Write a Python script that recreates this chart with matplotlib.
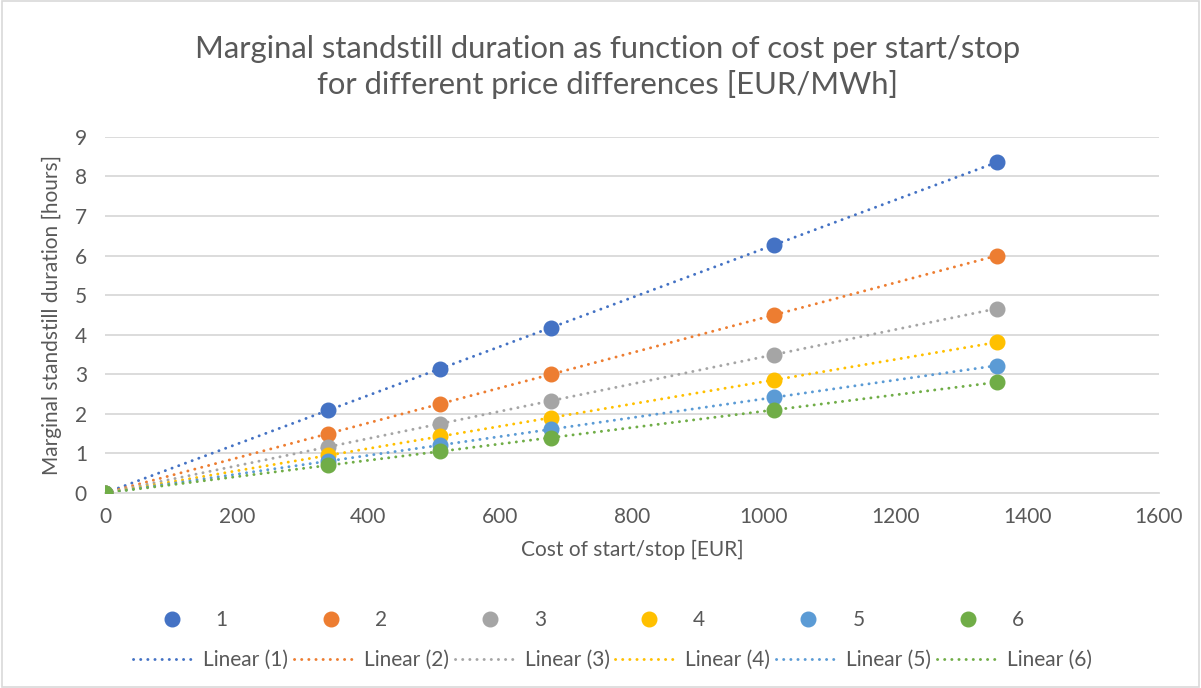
import matplotlib.pyplot as plt
import numpy as np
from matplotlib.lines import Line2D
from matplotlib.patches import Rectangle

plt.rcParams["font.family"] = ["Lato", "DejaVu Sans"]

# Cost per start/stop [EUR] and marginal standstill duration [hours]
cost = [0, 339, 508, 677, 1016, 1354]
series_names = ["1", "2", "3", "4", "5", "6"]
dur_1 = [0, 2.09, 3.14, 4.18, 6.27, 8.36]
dur_2 = [0, 1.50, 2.25, 3.00, 4.50, 6.00]
dur_3 = [0, 1.165, 1.75, 2.33, 3.50, 4.66]
dur_4 = [0, 0.95, 1.43, 1.90, 2.86, 3.81]
dur_5 = [0, 0.805, 1.21, 1.61, 2.42, 3.22]
dur_6 = [0, 0.70, 1.05, 1.40, 2.10, 2.80]
durations = [dur_1, dur_2, dur_3, dur_4, dur_5, dur_6]

COLOURS = ["#4472C4", "#ED7D31", "#A5A5A5", "#FFC000", "#5B9BD5", "#70AD47"]
TEXT = "#595959"
GRID = "#D9D9D9"
FS = 15
LW = 2.1
DOTS = (0, (0.05, 2.4))

fig = plt.figure(figsize=(12.01, 6.88), dpi=100)
ax = fig.add_axes([0.0874, 0.2834, 0.8776, 0.5176])

x = np.asarray(cost, dtype=float)
for name, y, colour in zip(series_names, durations, COLOURS):
    y = np.asarray(y, dtype=float)
    # least-squares trendline over the data range
    slope, intercept = np.polyfit(x, y, 1)
    xs = np.array([x.min(), x.max()])
    ax.plot(xs, slope * xs + intercept, color=colour, linewidth=LW,
            linestyle=DOTS, dash_capstyle="round", zorder=2)
for name, y, colour in zip(series_names, durations, COLOURS):
    ax.plot(x, y, linestyle="none", marker="o", markersize=10.5,
            color=colour, zorder=3)

ax.set_xlim(0, 1600)
ax.set_ylim(0, 9)
ax.set_xticks(np.arange(0, 1601, 200))
ax.set_yticks(np.arange(0, 10, 1))
ax.grid(axis="y", color=GRID, linewidth=1.3)
ax.set_axisbelow(True)
for side in ["top", "right", "left"]:
    ax.spines[side].set_visible(False)
ax.spines["bottom"].set_color(GRID)
ax.spines["bottom"].set_linewidth(1.3)
ax.tick_params(length=0, labelsize=FS, labelcolor=TEXT)
ax.tick_params(axis="x", pad=10)
ax.tick_params(axis="y", pad=13)
ax.set_xlabel("Cost of start/stop [EUR]", fontsize=FS, color=TEXT, labelpad=9)
ax.set_ylabel("Marginal standstill duration [hours]", fontsize=FS, color=TEXT,
              labelpad=9)

fig.text(0.506, 0.9026, "Marginal standstill duration as function of cost per start/stop\n"
         "for different price differences [EUR/MWh]",
         ha="center", va="center", fontsize=22.3, color=TEXT, linespacing=1.3)

marker_handles = [Line2D([], [], linestyle="none", marker="o", markersize=10.5,
                         color=c) for c in COLOURS]
line_handles = [Line2D([], [], color=c, linewidth=LW, linestyle=DOTS,
                       dash_capstyle="round") for c in COLOURS]
fig.legend(marker_handles, series_names, loc="center",
           bbox_to_anchor=(0.489, 0.099), ncol=6, frameon=False,
           fontsize=FS, labelcolor=TEXT, handlelength=2.0,
           handletextpad=1.11, columnspacing=3.95)
fig.legend(line_handles, [f"Linear ({n})" for n in series_names],
           loc="center", bbox_to_anchor=(0.51, 0.041), ncol=6,
           frameon=False, fontsize=FS, labelcolor=TEXT,
           handlelength=2.88, handletextpad=0.48, columnspacing=0.28)

fig.patches.append(Rectangle((0.002, 0.002), 0.996, 0.996, transform=fig.transFigure,
                             fill=False, edgecolor=GRID, linewidth=1.2))

fig.savefig("out.png", dpi=100)
